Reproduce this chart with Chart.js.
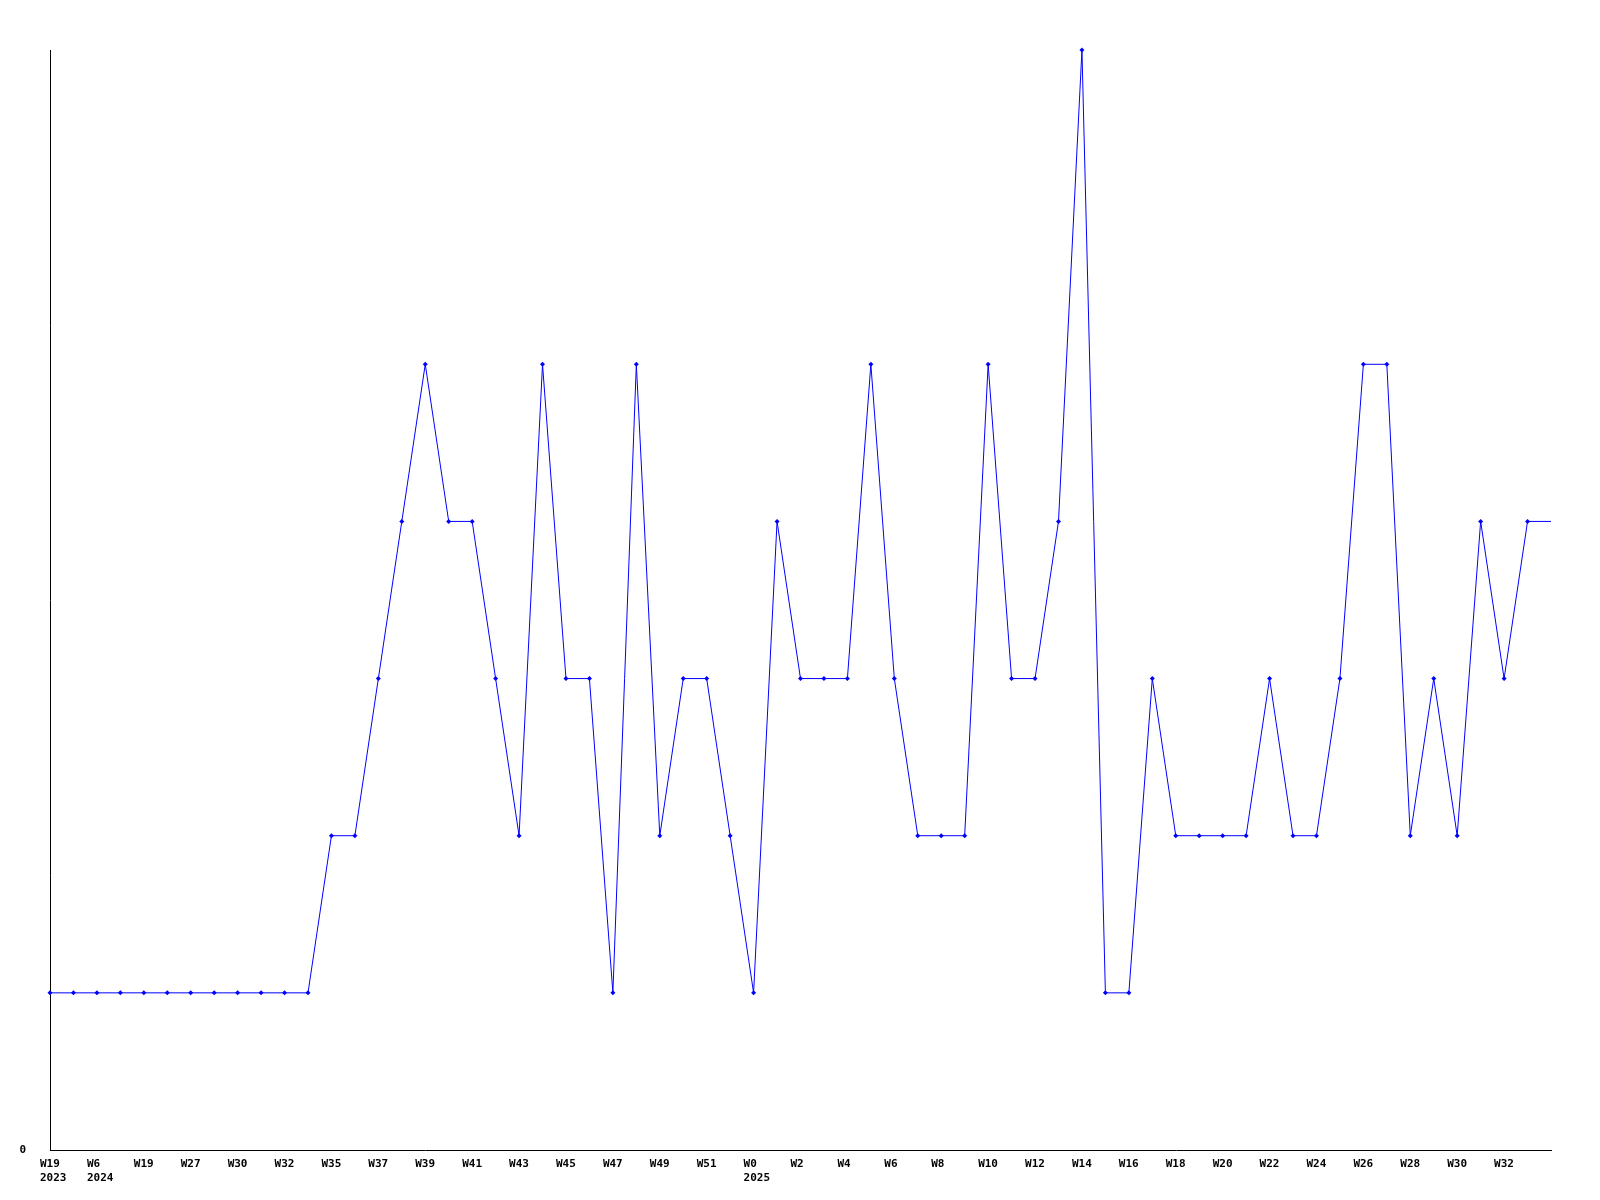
<!DOCTYPE html>
<html>
<head>
<meta charset="utf-8">
<script src="https://cdn.jsdelivr.net/npm/chart.js@4/dist/chart.umd.min.js"></script>
<style>
html,body{margin:0;padding:0;background:#fff;}
#wrap{width:1600px;height:1200px;position:relative;}
</style>
</head>
<body>
<div id="wrap"><canvas id="c" width="1600" height="1200"></canvas></div>
<script>
const weekLabels = [
  ["W19","2023"], "W47", ["W6","2024"], "W12", "W19", "W23", "W27", "W29", "W30", "W31",
  "W32", "W34", "W35", "W36", "W37", "W38", "W39", "W40", "W41", "W42",
  "W43", "W44", "W45", "W46", "W47", "W48", "W49", "W50", "W51", "W52",
  ["W0","2025"], "W1", "W2", "W3", "W4", "W5", "W6", "W7", "W8", "W9",
  "W10", "W11", "W12", "W13", "W14", "W15", "W16", "W17", "W18", "W19",
  "W20", "W21", "W22", "W23", "W24", "W25", "W26", "W27", "W28", "W29",
  "W30", "W31", "W32", "W33", "W34"
];
const counts = [
  1, 1, 1, 1, 1, 1, 1, 1, 1, 1,
  1, 1, 2, 2, 3, 4, 5, 4, 4, 3,
  2, 5, 3, 3, 1, 5, 2, 3, 3, 2,
  1, 4, 3, 3, 3, 5, 3, 2, 2, 2,
  5, 3, 3, 4, 7, 1, 1, 3, 2, 2,
  2, 2, 3, 2, 2, 3, 5, 5, 2, 3,
  2, 4, 3, 4, 4
];
const yMin = 0;
const yMax = 7;
const yTickLabels = ["0"];

const tickFont = {family: "'DejaVu Sans Mono', monospace", size: 11, weight: 'bold', lineHeight: '14px'};

new Chart(document.getElementById('c'), {
  type: 'line',
  data: {
    labels: weekLabels,
    datasets: [{
      data: counts,
      borderColor: '#0000ff',
      borderWidth: 1,
      backgroundColor: '#0000ff',
      pointBackgroundColor: '#0000ff',
      pointBorderColor: '#0000ff',
      pointStyle: 'rectRot',
      pointRadius: ctx => ctx.dataIndex === counts.length - 1 ? 0 : 2.5,
      pointBorderWidth: 0,
      tension: 0,
      fill: false,
      clip: false
    }]
  },
  options: {
    responsive: false,
    animation: false,
    devicePixelRatio: 1,
    layout: {padding: {top: 50, right: 49, left: 0, bottom: 0}},
    plugins: {legend: {display: false}, tooltip: {enabled: false}, title: {display: false}},
    scales: {
      x: {
        type: 'category',
        offset: false,
        grid: {display: false, drawTicks: false},
        border: {display: true, color: '#000', width: 1},
        afterFit: s => { s.height = 50; },
        ticks: {
          autoSkip: false,
          maxRotation: 0,
          minRotation: 0,
          align: 'start',
          labelOffset: -10,
          padding: 7,
          color: '#000',
          font: tickFont,
          callback: function(v, i) { return (i % 2 === 0 && i < counts.length - 1) ? this.getLabelForValue(v) : ''; }
        }
      },
      y: {
        min: yMin,
        max: yMax,
        grid: {display: false, drawTicks: false},
        border: {display: true, color: '#000', width: 1},
        afterFit: s => { s.width = 50; },
        ticks: {
          stepSize: yMax,
          padding: 24,
          color: '#000',
          font: tickFont,
          callback: v => v === yMin ? yTickLabels[0] : ''
        }
      }
    }
  }
});
</script>
</body>
</html>
